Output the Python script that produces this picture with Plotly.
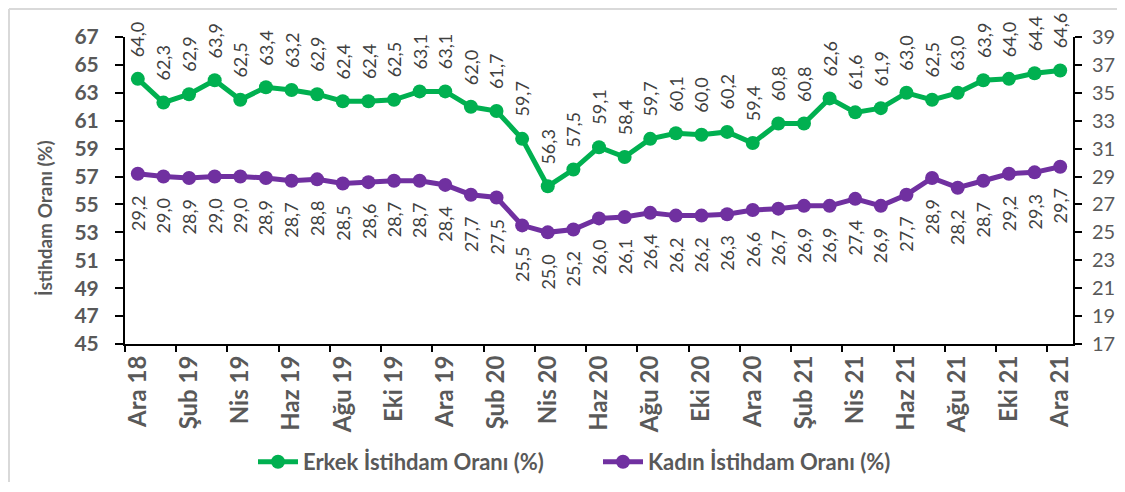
import plotly.graph_objects as go

months = ["Ara 18", "Oca 19", "Şub 19", "Mar 19", "Nis 19", "May 19", "Haz 19", "Tem 19",
          "Ağu 19", "Eyl 19", "Eki 19", "Kas 19", "Ara 19", "Oca 20", "Şub 20", "Mar 20",
          "Nis 20", "May 20", "Haz 20", "Tem 20", "Ağu 20", "Eyl 20", "Eki 20", "Kas 20",
          "Ara 20", "Oca 21", "Şub 21", "Mar 21", "Nis 21", "May 21", "Haz 21", "Tem 21",
          "Ağu 21", "Eyl 21", "Eki 21", "Kas 21", "Ara 21"]
erkek = [64.0, 62.3, 62.9, 63.9, 62.5, 63.4, 63.2, 62.9, 62.4, 62.4, 62.5, 63.1, 63.1, 62.0,
         61.7, 59.7, 56.3, 57.5, 59.1, 58.4, 59.7, 60.1, 60.0, 60.2, 59.4, 60.8, 60.8, 62.6,
         61.6, 61.9, 63.0, 62.5, 63.0, 63.9, 64.0, 64.4, 64.6]
kadin = [29.2, 29.0, 28.9, 29.0, 29.0, 28.9, 28.7, 28.8, 28.5, 28.6, 28.7, 28.7, 28.4, 27.7,
         27.5, 25.5, 25.0, 25.2, 26.0, 26.1, 26.4, 26.2, 26.2, 26.3, 26.6, 26.7, 26.9, 26.9,
         27.4, 26.9, 27.7, 28.9, 28.2, 28.7, 29.2, 29.3, 29.7]
left_ticks = list(range(45, 68, 2))
right_ticks = list(range(17, 40, 2))
y_title = "İstihdam Oranı (%)"

GREEN = "#00B050"
PURPLE = "#7030A0"
GRAY = "#595959"
FONT = "Lato"

x = list(range(len(months)))
fmt = lambda v: f"{v:.1f}".replace(".", ",")

fig = go.Figure()
fig.add_trace(go.Scatter(x=x, y=erkek, mode="lines+markers", name="Erkek İstihdam Oranı (%)",
                         line=dict(color=GREEN, width=5), marker=dict(color=GREEN, size=14),
                         yaxis="y"))
fig.add_trace(go.Scatter(x=x, y=kadin, mode="lines+markers", name="Kadın İstihdam Oranı (%)",
                         line=dict(color=PURPLE, width=5), marker=dict(color=PURPLE, size=14),
                         yaxis="y2"))
# invisible trace for between-category tick marks
fig.add_trace(go.Scatter(x=[-0.5], y=[45], xaxis="x2", yaxis="y", mode="markers",
                         marker=dict(opacity=0), showlegend=False, hoverinfo="skip"))

for i, v in enumerate(erkek):
    fig.add_annotation(x=i, y=v, xref="x", yref="y", text=fmt(v), showarrow=False,
                       textangle=-90, yanchor="bottom", xanchor="center", yshift=20,
                       font=dict(family=FONT, size=18, color="#404040"))
for i, v in enumerate(kadin):
    fig.add_annotation(x=i, y=v, xref="x", yref="y2", text=fmt(v), showarrow=False,
                       textangle=-90, yanchor="top", xanchor="center", yshift=-20,
                       font=dict(family=FONT, size=18, color="#404040"))

# figure is placed at (8, 8) in the page by the default body margin
W, H = 1109, 474
L, R, T, B = 117, 1065, 29, 336
pw, ph = R - L, B - T

fig.add_annotation(x=(36 - L) / pw, y=(B - 210) / ph, xref="paper", yref="paper",
                   text="<b>" + y_title + "</b>", textangle=-90, showarrow=False,
                   xanchor="center", yanchor="middle",
                   font=dict(family=FONT, size=19, color=GRAY, weight="bold"))

fig.update_layout(
    width=W, height=H,
    margin=dict(l=L, r=W - R, t=T, b=H - B, autoexpand=False),
    paper_bgcolor="white", plot_bgcolor="white",
    showlegend=True,
    legend=dict(orientation="h", x=(590 - L) / pw, xanchor="center", y=(B - 454) / ph,
                yanchor="middle", font=dict(family=FONT, size=22, color=GRAY, weight="bold"),
                itemwidth=40, tracegroupgap=0, entrywidth=290, entrywidthmode="pixels"),
    xaxis=dict(range=[-0.5, len(months) - 0.5], tickvals=x[::2], ticktext=months[::2],
               tickangle=-90, ticks="", showgrid=False, zeroline=False, automargin=False,
               showline=True, linecolor="black", linewidth=2,
               tickfont=dict(family=FONT, size=24, color=GRAY, weight="bold")),
    xaxis2=dict(range=[-0.5, len(months) - 0.5], overlaying="x", side="bottom",
                tickvals=[i - 0.5 for i in range(0, len(months), 2)], ticktext=[""] * 19,
                ticks="outside", ticklen=7, tickwidth=2, tickcolor="black", automargin=False,
                showgrid=False, zeroline=False, showline=False, anchor="y"),
    yaxis=dict(range=[45, 67], tickvals=left_ticks, ticks="outside", ticklen=8, tickwidth=2,
               tickcolor="black", showgrid=False, zeroline=False, showline=True,
               linecolor="black", linewidth=2, ticklabelstandoff=12, automargin=False,
               tickfont=dict(family=FONT, size=21, color=GRAY, weight="bold")),
    yaxis2=dict(range=[17, 39], tickvals=right_ticks, overlaying="y", side="right",
                ticks="outside", ticklen=7, tickwidth=2, tickcolor="black",
                showgrid=False, zeroline=False, showline=True, linecolor="black", linewidth=2,
                ticklabelstandoff=6, automargin=False,
                tickfont=dict(family=FONT, size=20, color=GRAY)),
    shapes=[
        dict(type="line", xref="paper", yref="paper",
             x0=(1 - L) / pw, x1=(1 - L) / pw, y0=(B - H) / ph, y1=1 + (T - 1) / ph,
             line=dict(color="#D9D9D9", width=2), layer="below"),
        dict(type="line", xref="paper", yref="paper",
             x0=(1 - L) / pw, x1=(W - L) / pw, y0=1 + (T - 1) / ph, y1=1 + (T - 1) / ph,
             line=dict(color="#D9D9D9", width=2), layer="below"),
    ],
)

fig.write_html("out.html")
